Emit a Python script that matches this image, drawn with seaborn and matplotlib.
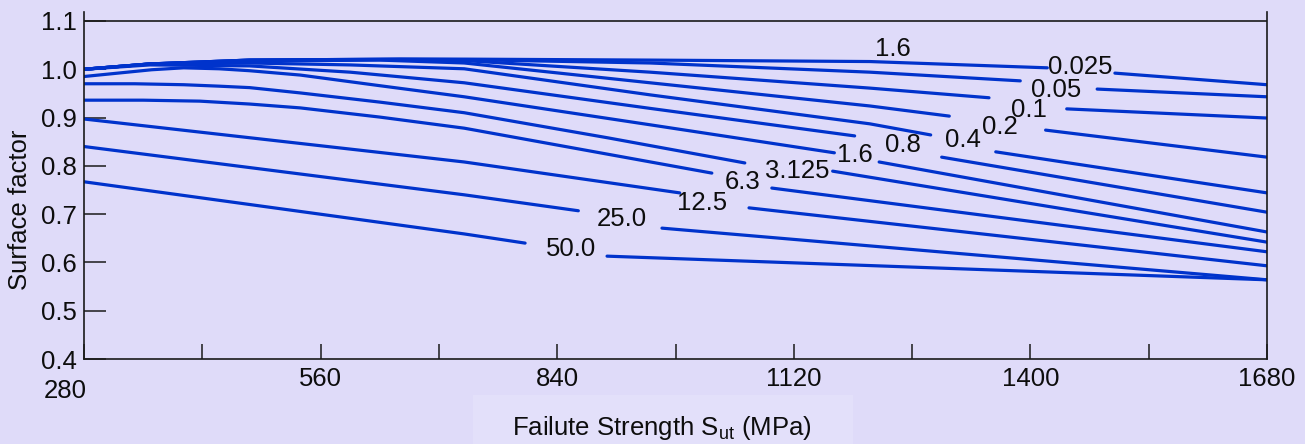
import numpy as np
import pandas as pd
import seaborn as sns
import matplotlib.pyplot as plt
import matplotlib.transforms as mtransforms
from matplotlib.patches import Rectangle

# Surface factor vs failure strength, one curve per roughness class (um).
# Points; the last two points of every curve are the
# part to the right of its inline label (the line is broken for the label).
S_0025 = [280, 358, 476, 654, 730, 950, 1210, 1420, 1500, 1680]
K_0025 = [1.000, 1.011, 1.019, 1.021, 1.021, 1.019, 1.016, 1.003, 0.992, 0.968]
S_005 = [280, 358, 476, 654, 730, 950, 1210, 1388, 1479, 1680]
K_005 = [1.000, 1.011, 1.019, 1.021, 1.020, 1.013, 0.994, 0.976, 0.959, 0.943]
S_01 = [280, 358, 476, 654, 730, 950, 1210, 1351, 1443, 1680]
K_01 = [1.000, 1.011, 1.019, 1.020, 1.018, 0.994, 0.961, 0.941, 0.918, 0.899]
S_02 = [280, 358, 476, 630, 730, 950, 1210, 1304, 1418, 1680]
K_02 = [1.000, 1.011, 1.017, 1.019, 1.013, 0.972, 0.924, 0.903, 0.874, 0.818]
S_04 = [280, 358, 476, 595, 730, 950, 1210, 1282, 1359, 1680]
K_04 = [1.000, 1.011, 1.013, 1.009, 1.001, 0.947, 0.887, 0.864, 0.829, 0.744]
S_08 = [280, 358, 476, 595, 730, 950, 1192, 1295, 1680]
K_08 = [1.000, 1.009, 1.007, 0.994, 0.972, 0.919, 0.862, 0.818, 0.704]
S_16 = [280, 320, 360, 398, 440, 476, 536, 630, 730, 950, 1168, 1221, 1680]
K_16 = [0.985, 0.992, 0.999, 1.003, 1.001, 0.997, 0.988, 0.966, 0.943, 0.885, 0.827, 0.808, 0.663]
S_3125 = [280, 340, 398, 440, 476, 536, 630, 730, 900, 1062, 1166, 1680]
K_3125 = [0.970, 0.970, 0.968, 0.965, 0.962, 0.951, 0.932, 0.910, 0.858, 0.806, 0.789, 0.642]
S_63 = [280, 350, 417, 476, 536, 630, 730, 1023, 1094, 1680]
K_63 = [0.936, 0.936, 0.934, 0.928, 0.920, 0.901, 0.878, 0.785, 0.754, 0.622]
S_125 = [280, 730, 985, 1067, 1680]
K_125 = [0.897, 0.808, 0.744, 0.713, 0.593]
S_25 = [280, 730, 865, 964, 1680]
K_25 = [0.840, 0.740, 0.707, 0.671, 0.564]
S_50 = [280, 730, 802, 899, 1680]
K_50 = [0.767, 0.659, 0.640, 0.613, 0.564]

ra_labels = ['0.025', '0.05', '0.1', '0.2', '0.4', '0.8', '1.6', '3.125', '6.3', '12.5', '25.0', '50.0']
# label centres (strength, factor)
lab_s = [1459, 1430, 1398, 1364, 1320, 1249, 1192, 1124, 1060, 1012, 917, 856]
lab_k = [1.005, 0.958, 0.915, 0.881, 0.854, 0.843, 0.823, 0.789, 0.767, 0.723, 0.690, 0.628]
# stray label printed above the top curve
extra_label = '1.6'
extra_s, extra_k = 1237, 1.042

x_ticks = [280, 420, 560, 700, 840, 980, 1120, 1260, 1400, 1540, 1680]
x_ticklabels = ['280', '', '560', '', '840', '', '1120', '', '1400', '', '1680']
y_ticks = [0.4, 0.5, 0.6, 0.7, 0.8, 0.9, 1.0, 1.1]

bg = '#DFDBF9'
blue = '#0033CC'
ink = '#0d0d0d'
fs = 18.5

# long format, one group per drawn piece of line
curves = [(S_0025, K_0025), (S_005, K_005), (S_01, K_01), (S_02, K_02), (S_04, K_04),
          (S_08, K_08), (S_16, K_16), (S_3125, K_3125), (S_63, K_63), (S_125, K_125),
          (S_25, K_25), (S_50, K_50)]
rows = []
for i, (s, k) in enumerate(curves):
    n = len(s)
    for j in range(n):
        seg = f'{ra_labels[i]}_a' if j < n - 2 else f'{ra_labels[i]}_b'
        rows.append({'seg': seg, 'S': s[j], 'k': k[j]})
df = pd.DataFrame(rows)

sns.set_style('ticks')
plt.rcParams['font.family'] = ['Liberation Sans', 'DejaVu Sans']
plt.rcParams['mathtext.fontset'] = 'custom'
plt.rcParams['mathtext.rm'] = 'Liberation Sans'
plt.rcParams['mathtext.it'] = 'Liberation Sans'

fig = plt.figure(figsize=(13.05, 4.44), dpi=100)
fig.patch.set_facecolor(bg)
# faint lighter patch behind the x axis title
fig.add_artist(Rectangle((473 / 1305, 0), 380 / 1305, 49 / 444, transform=fig.transFigure,
                         facecolor='#E3E0FA', edgecolor='none', zorder=0))
ax = fig.add_axes([84 / 1305, 1 - 359 / 444, 1183 / 1305, 347 / 444])
ax.set_facecolor(bg)

sns.lineplot(data=df, x='S', y='k', units='seg', estimator=None, sort=False,
             color=blue, lw=2.3, ax=ax, legend=False)

for lab, s, k in zip(ra_labels, lab_s, lab_k):
    ax.text(s, k, lab, ha='center', va='center', fontsize=fs, color=ink)
ax.text(extra_s, extra_k, extra_label, ha='center', va='center', fontsize=fs, color=ink)

ax.set_xlim(280, 1680)
ax.set_ylim(0.4, 1.1186)
ax.axhline(1.1, color='#1a1a1a', lw=1.2)
ax.spines['top'].set_visible(False)
for side in ['left', 'right', 'bottom']:
    ax.spines[side].set_color('#1a1a1a')
    ax.spines[side].set_linewidth(1.2)

ax.set_xticks(x_ticks)
ax.set_xticklabels(x_ticklabels)
ax.set_yticks(y_ticks)
ax.set_yticklabels([f'{v:.1f}' for v in y_ticks])
ax.tick_params(axis='x', direction='in', length=11, width=1.1, pad=6, labelsize=fs,
               colors='#1a1a1a', labelcolor=ink)
ax.tick_params(axis='y', direction='in', length=16, width=1.1, pad=5, labelsize=fs,
               colors='#1a1a1a', labelcolor=ink)

# the first strength label sits lower and to the left of its tick
first = ax.get_xticklabels()[0]
first.set_transform(first.get_transform() +
                    mtransforms.ScaledTranslation(-0.19, -0.12, fig.dpi_scale_trans))

ax.set_xlabel('Failute Strength S$_{\\mathrm{ut}}$ (MPa)', fontsize=fs, color=ink)
ax.xaxis.set_label_coords((662 - 84) / 1183, (359 - 428) / 347)
ax.xaxis.label.set_va('center')
ax.set_ylabel('Surface factor', fontsize=fs, color=ink)
ax.yaxis.set_label_coords((20 - 84) / 1183, (359 - 210) / 347)
ax.yaxis.label.set_va('center')
ax.yaxis.label.set_ha('center')

fig.savefig('out.png', dpi=100, facecolor=bg)
